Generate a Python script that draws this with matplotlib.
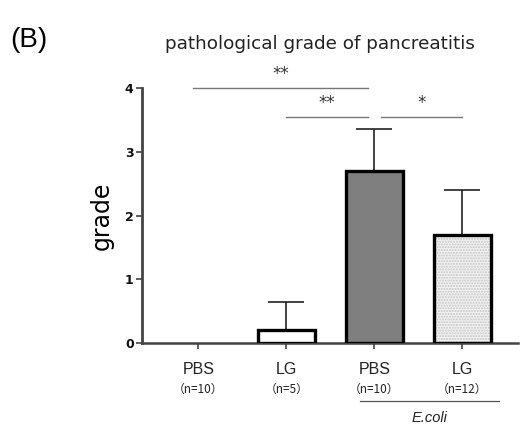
import matplotlib
matplotlib.use("Agg")
import matplotlib.pyplot as plt
from matplotlib.transforms import blended_transform_factory

plt.rcParams['font.family'] = ['DejaVu Sans']

# Groups and values
groups = ["PBS", "LG", "PBS", "LG"]
n_labels = ["（n=10）", "（n=5）", "（n=10）", "（n=12）"]
means = [0.0, 0.2, 2.7, 1.7]
sds = [0.0, 0.45, 0.66, 0.7]
fills = ["white", "white", "#7f7f7f", "#f2f2f2"]
hatched = [False, False, False, True]

# Significance brackets: (start group, end group, height, label)
sig_pairs = [(0, 2, 4.0, "**"), (1, 2, 3.55, "**"), (2, 3, 3.55, "*")]
# trims applied to (left end, right end) of each bracket line
sig_trim = [(-0.06, -0.07), (0.0, -0.07), (0.07, 0.0)]

fig = plt.figure(figsize=(5.22, 4.32), dpi=100)
ax = fig.add_axes([0.272, 0.206, 0.72, 0.59])

x = list(range(len(groups)))
width = 0.65
for xi, m, s, fc, h in zip(x, means, sds, fills, hatched):
    if m <= 0:
        continue
    if s > 0:
        ax.errorbar(xi, m, yerr=[[0], [s]], fmt="none", ecolor="#222222",
                    elinewidth=1.2, capsize=13, capthick=1.2, zorder=1)
    ax.bar(xi, m, width=width, color=fc, edgecolor="none", zorder=2)
    if h:
        ax.bar(xi, m, width=width, color="none", edgecolor="#c4c4c4",
               hatch="......", linewidth=0, zorder=2.5)
    ax.bar(xi, m, width=width, color="none", edgecolor="black",
           linewidth=2.4, zorder=3)

ax.set_xlim(-0.64, 3.63)
ax.set_ylim(0, 4)
ax.set_yticks([0, 1, 2, 3, 4])
ax.set_yticklabels(["0", "1", "2", "3", "4"], fontsize=9, fontweight="bold",
                   color="#111111")
ax.set_xticks(x)
ax.set_xticklabels([""] * len(x))
ax.tick_params(axis="both", direction="out", length=4, width=1.2,
               color="#444444")
ax.tick_params(axis="y", pad=2)

for side in ("top", "right"):
    ax.spines[side].set_visible(False)
ax.spines["left"].set_linewidth(2.0)
ax.spines["left"].set_color("#444444")
ax.spines["bottom"].set_linewidth(1.8)
ax.spines["bottom"].set_color("#444444")

ax.set_ylabel("grade", fontsize=17, labelpad=8)

# Group labels under the axis
trans = blended_transform_factory(ax.transData, fig.transFigure)
for xi, g, nl in zip(x, groups, n_labels):
    ax.text(xi, 1 - 369 / 432, g, transform=trans, ha="center", va="center",
            fontsize=11.5, color="#222222",
            family=["Liberation Sans", "DejaVu Sans"])
    ax.text(xi, 1 - 389 / 432, nl, transform=trans, ha="center",
            va="center", fontsize=8.5, color="#222222",
            family=["Noto Sans CJK JP", "DejaVu Sans"])

ax.plot([1.84, 3.42], [1 - 401 / 432] * 2, transform=trans, color="#555555",
        lw=0.9, clip_on=False)
ax.text(2.63, 1 - 418 / 432, "E.coli", transform=trans, ha="center",
        va="center", fontsize=10.5, style="italic", color="#222222",
        family=["Liberation Sans", "DejaVu Sans"])

# Significance brackets
for (a, b, yv, lab), (ta, tb) in zip(sig_pairs, sig_trim):
    ax.plot([a + ta, b + tb], [yv, yv], color="#777777", lw=1.0,
            clip_on=False)
    ax.text((a + ta + b + tb) / 2, yv + 0.08, lab, ha="center", va="bottom",
            fontsize=12, color="#333333", clip_on=False)

fig.text(0.02, 1 - 40 / 432, "(B)", fontsize=20, va="center", ha="left",
         family=["Liberation Sans", "DejaVu Sans"])
fig.text(0.613, 1 - 44 / 432, "pathological grade of pancreatitis",
         fontsize=13.2, ha="center", va="center", color="#222222")

fig.savefig("out.png", dpi=100)
